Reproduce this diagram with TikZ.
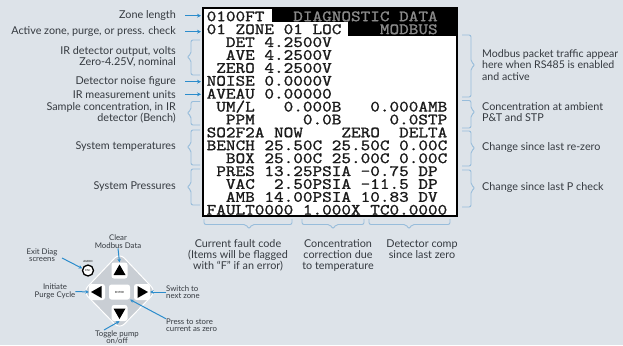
\documentclass[tikz,border=0pt]{standalone}
\usepackage{fontspec}
\setmainfont{Lato}
\newfontfamily\scrfnt{lmmono10-regular.otf}[FakeBold=1.0]
\usepackage{graphicx}
\usetikzlibrary{arrows.meta}
\definecolor{bgc}{HTML}{DDE3E9}
\definecolor{lblc}{HTML}{353A40}
\definecolor{arrc}{HTML}{2B8CCC}
\definecolor{brkc}{HTML}{98BDDB}
\definecolor{hdrc}{HTML}{8A8A8A}
\definecolor{scrc}{HTML}{1A1A1A}
\definecolor{padc}{HTML}{C9CED4}
\newcommand\lblfont{\fontsize{10.8}{11}\selectfont}
\newcommand\lblfontB{\fontsize{10.6}{11.5}\selectfont}
\newcommand\kfont{\fontsize{7.8}{7.4}\selectfont}
\newcommand\tinyfont{\fontsize{2.8}{3}\selectfont}
\tikzset{
  lbl/.style={font=\lblfont, text=lblc, inner sep=0pt},
  klbl/.style={font=\kfont, text=lblc, inner sep=0pt, align=center},
  scrtxt/.style={anchor=base west, inner sep=0pt, text=scrc},
  arr/.style={draw=arrc, line width=1.1pt, -{Stealth[length=4pt,width=4pt]}},
  karr/.style={draw=arrc, line width=1pt, -{Stealth[length=3.5pt,width=3.5pt]}},
  brk/.style={draw=brkc, line width=0.9pt, rounded corners=2pt},
  keybox/.style={fill=white, rounded corners=2.5pt},
}
\newcommand\scr[1]{\scalebox{1.16}[1]{\fontsize{15.8}{15.8}\selectfont\scrfnt #1}}
\newcommand\braceL[4]{\draw[brk] (#1+9,#2) -- (#1,#2) -- (#1,#4-3) -- (#1-4,#4) -- (#1,#4+3) -- (#1,#3) -- (#1+9,#3);}
\newcommand\braceR[4]{\draw[brk] (#1-9,#2) -- (#1,#2) -- (#1,#4-3) -- (#1+4,#4) -- (#1,#4+3) -- (#1,#3) -- (#1-9,#3);}
\newcommand\braceB[3]{\draw[brk] (#1,219) -- (#1,224.5) -- (#3-3,224.5) -- (#3,229) -- (#3+3,224.5) -- (#2,224.5) -- (#2,219);}
\begin{document}
\begin{tikzpicture}[x=1pt,y=-1pt]
\useasboundingbox (0,0) rectangle (623,345);
\fill[bgc] (0,0) rectangle (623,345);

% ---------- screen ----------
\fill[white] (203,8) rectangle (457,216);
\fill[black] (271.5,8.5) rectangle (456,22.5);
\fill[black] (348,22.5) rectangle (456,35.8);
\node[scrtxt] (s1)  at (206.5,21.2)  {\scr{0100FT~~~\textcolor{hdrc}{DIAGNOSTIC~DATA}}};
\node[scrtxt] (s2)  at (206.5,34.1)  {\scr{01~ZONE~01~LOC~~~~\textcolor{hdrc}{MODBUS}}};
\node[scrtxt] (s3)  at (206.5,47.0)  {\scr{~~DET~4.2500V}};
\node[scrtxt] (s4)  at (206.5,59.9)  {\scr{~~AVE~4.2500V}};
\node[scrtxt] (s5)  at (206.5,72.8)  {\scr{~ZERO~4.2500V}};
\node[scrtxt] (s6)  at (206.5,85.7)  {\scr{NOISE~0.0000V}};
\node[scrtxt] (s7)  at (206.5,98.6)  {\scr{AVEAU~0.00000}};
\node[scrtxt] (s8)  at (206.5,111.5) {\scr{~UM/L~~~0.000B~~~0.000AMB}};
\node[scrtxt] (s9)  at (206.5,124.4) {\scr{~~PPM~~~~~0.0B~~~~~0.0STP}};
\node[scrtxt] (s10) at (206.5,137.3) {\scr{SO2F2A~NOW~~~~ZERO~~DELTA}};
\node[scrtxt] (s11) at (206.5,150.2) {\scr{BENCH~25.50C~25.50C~0.00C}};
\node[scrtxt] (s12) at (206.5,163.1) {\scr{~~BOX~25.00C~25.00C~0.00C}};
\node[scrtxt] (s13) at (206.5,176.0) {\scr{~PRES~13.25PSIA~-0.75~DP}};
\node[scrtxt] (s14) at (206.5,188.9) {\scr{~~VAC~~2.50PSIA~-11.5~DP}};
\node[scrtxt] (s15) at (206.5,201.8) {\scr{~~AMB~14.00PSIA~10.83~DV}};
\node[scrtxt] (s16) at (206.5,214.7) {\scr{FAULT0000~1.000X~TC0.0000}};
\draw[line width=1.5pt] (203,8) rectangle (457,216);

% ---------- left labels ----------
\node[lbl, anchor=east] (zl) at (176,15.7) {Zone length};
\node[lbl, anchor=east] (az) at (176,31.7) {Active zone, purge, or press. check};
\node[lbl, anchor=east, align=right] (ir) at (176,57.2) {IR detector output, volts\\Zero-4.25V, nominal};
\node[lbl, anchor=east] (dn) at (176,81.7) {Detector noise figure};
\node[lbl, anchor=east] (mu) at (176,94.3) {IR measurement units};
\node[lbl, anchor=east, align=right] (sc) at (176,112.8) {Sample concentration, in IR\\detector (Bench)};
\node[lbl, anchor=east] (st) at (176,146.7) {System temperatures};
\node[lbl, anchor=east] (sp) at (176,186.7) {System Pressures};

\coordinate (zla) at (185,15.7);  \coordinate (zlb) at (201,15.7);
\coordinate (aza) at (185,31.7);  \coordinate (azb) at (201,31.7);
\coordinate (dna) at (185,81.7);  \coordinate (dnb) at (201,81.7);
\coordinate (mua) at (185,94.3);  \coordinate (mub) at (201,94.3);
\draw[arr] (zla) -- (zlb);
\draw[arr] (aza) -- (azb);
\draw[arr] (dna) -- (dnb);
\draw[arr] (mua) -- (mub);

\braceL{191}{40}{75}{57}
\braceL{191}{101.5}{125}{113}
\braceL{191}{130}{165}{147}
\braceL{191}{169}{205}{187}

% ---------- right labels ----------
\braceR{471}{35}{97}{65}
\braceR{471}{100.5}{128}{112}
\braceR{471}{131}{166}{148}
\braceR{471}{170}{207}{188}
\node[lbl, anchor=west, align=left, font=\lblfontB] (mb) at (482,65) {Modbus packet traffic appear\\here when RS485 is enabled\\and active};
\node[lbl, anchor=west, align=left] (ca) at (482,112) {Concentration at ambient\\P\&T and STP};
\node[lbl, anchor=west] (cz) at (482,148) {Change since last re-zero};
\node[lbl, anchor=west] (cp) at (482,188) {Change since last P check};

% ---------- bottom labels ----------
\braceB{204}{292}{249}
\braceB{302}{364}{333}
\braceB{369}{450}{409}
\node[lbl, align=center] (fc) at (238,255) {Current fault code\\(Items will be flagged\\with “F” if an error)};
\node[lbl, align=center] (cc) at (338,255) {Concentration\\correction due\\to temperature};
\node[lbl, align=center] (dc) at (422,249.5) {Detector comp\\since last zero};

% ---------- keypad ----------
\draw[fill=padc, draw=white, line width=1pt, rounded corners=7pt]
  (119.5,253) -- (156,291.5) -- (119.5,329) -- (83,291.5) -- cycle;
\node[keybox, minimum width=16pt, minimum height=16pt] (kup) at (119.5,270.5) {};
\node[keybox, minimum width=16pt, minimum height=16pt] (kdn) at (119.5,313) {};
\node[keybox, minimum width=16pt, minimum height=16pt] (klt) at (97,292) {};
\node[keybox, minimum width=16pt, minimum height=16pt] (krt) at (142,292) {};
\node[keybox, minimum width=21pt, minimum height=15pt, font=\tinyfont] (ken) at (119.5,292) {ENTER};
\fill[black] (119.5,264.5) -- (125.5,275) -- (113.5,275) -- cycle;
\fill[black] (119.5,319) -- (125.5,308.5) -- (113.5,308.5) -- cycle;
\fill[black] (91,292) -- (101.5,286) -- (101.5,298) -- cycle;
\fill[black] (148,292) -- (137.5,286) -- (137.5,298) -- cycle;
\node[circle, draw=black, line width=1.3pt, fill=white, minimum size=11pt, inner sep=0pt, font=\tinyfont] (kesc) at (88,270.5) {ESC};
\node[inner sep=0pt, font=\tinyfont] (kaud) at (88,261) {AUDIO};

\node[klbl] (tclr) at (118,241.5) {Clear\\Modbus Data};
\node[klbl] (texit) at (42,255) {Exit Diag\\screens};
\node[klbl] (tpur) at (55,291.5) {Initiate\\Purge Cycle};
\node[klbl, align=left, anchor=west] (tsw) at (166,292) {Switch to\\next zone};
\node[klbl, align=left, anchor=west] (tps) at (166,325.5) {Press to store\\current as zero};
\node[klbl] (ttog) at (117,337) {Toggle pump\\on/off};

\coordinate (exa) at (62,258);
\coordinate (tga) at (104,330);
\draw[karr] (tclr.south) -- (kup.north);
\draw[karr] (exa) -- (kesc.160);
\draw[karr] (tpur.east) -- (klt.west);
\draw[karr] (tsw.west) -- (krt.east);
\draw[karr] (tps.north west) -- (ken.south east);
\draw[karr] (tga) -- (kdn.south);
\end{tikzpicture}
\end{document}
